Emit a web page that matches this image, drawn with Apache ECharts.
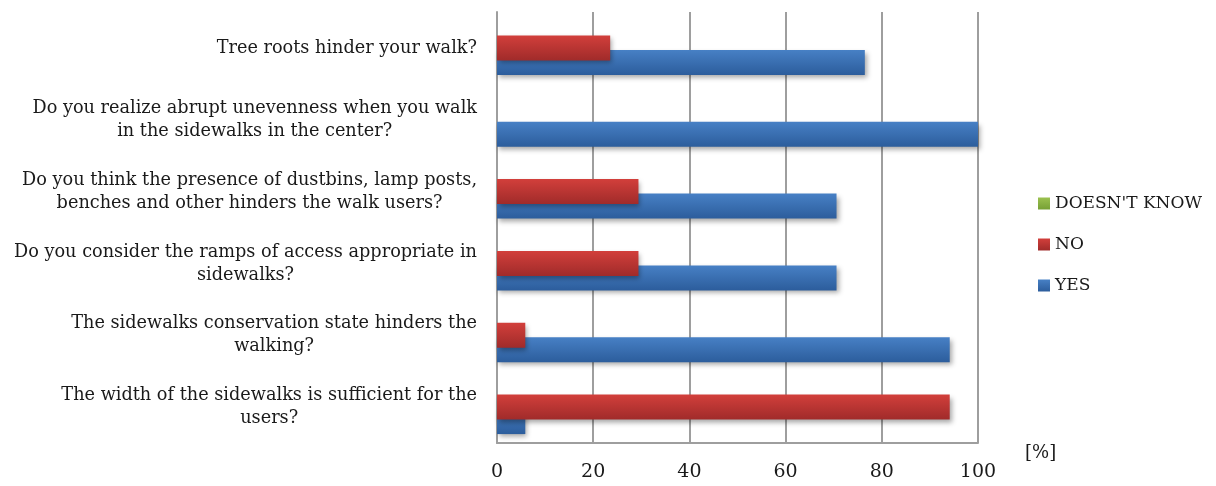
<!DOCTYPE html>
<html>
<head>
<meta charset="utf-8">
<script src="https://cdn.jsdelivr.net/npm/echarts@6/dist/echarts.min.js"></script>
<style>
html,body{margin:0;padding:0;background:#fff;}
#chart{width:1216px;height:486px;}
</style>
</head>
<body>
<div id="chart"></div>
<script>
// Categories listed bottom-to-top (ECharts category y axis starts at bottom)
const categories = [
  "The width of the sidewalks is sufficient for the\nusers?",
  "The sidewalks conservation state hinders the\nwalking?",
  "Do you consider the ramps of access appropriate in\nsidewalks?",
  "Do you think the presence of dustbins, lamp posts,\nbenches and other hinders the walk users?",
  "Do you realize abrupt unevenness when you walk\nin the sidewalks in the center?",
  "Tree roots hinder your walk?"
];
const yesValues = [5.88, 94.12, 70.59, 70.59, 100, 76.47];
const noValues = [94.12, 5.88, 29.41, 29.41, 0, 23.53];
const dontKnowValues = [0, 0, 0, 0, 0, 0];
const xTicks = [0, 20, 40, 60, 80, 100];
const legendOrder = ["DOESN'T KNOW", "NO", "YES"];

const FONT = "DejaVu Serif";
function grad(top, bottom) {
  return new echarts.graphic.LinearGradient(0, 0, 0, 1, [
    {offset: 0, color: top}, {offset: 1, color: bottom}
  ]);
}
const shadow = {shadowColor: 'rgba(0,0,0,0.35)', shadowBlur: 5, shadowOffsetX: 2, shadowOffsetY: 3};

const chart = echarts.init(document.getElementById('chart'), null, {renderer: 'canvas'});
chart.setOption({
  animation: false,
  backgroundColor: '#ffffff',
  grid: {left: 497, right: 238, top: 12, bottom: 43, containLabel: false},
  legend: {
    orient: 'vertical',
    left: 1033,
    top: 190,
    itemWidth: 12,
    itemHeight: 12,
    itemGap: 24,
    icon: 'rect',
    data: legendOrder,
    textStyle: {fontFamily: FONT, fontSize: 17, color: '#1a1a1a'}
  },
  xAxis: {
    type: 'value',
    min: xTicks[0],
    max: xTicks[xTicks.length - 1],
    interval: xTicks[1] - xTicks[0],
    name: '[%]',
    nameLocation: 'end',
    nameGap: 47,
    nameTextStyle: {fontFamily: FONT, fontSize: 18, color: '#1a1a1a', verticalAlign: 'top', padding: [1, 0, 0, 0]},
    axisLine: {show: true, lineStyle: {color: '#9e9e9e', width: 2}},
    axisTick: {show: false},
    axisLabel: {fontFamily: FONT, fontSize: 19, color: '#1a1a1a', margin: 20},
    splitLine: {show: true, lineStyle: {color: '#9e9e9e', width: 2}}
  },
  yAxis: {
    type: 'category',
    data: categories,
    axisLine: {show: true, lineStyle: {color: '#9e9e9e', width: 2}},
    axisTick: {show: false},
    splitLine: {show: false},
    axisLabel: {
      margin: 20,
      align: 'right',
      lineHeight: 23,
      formatter: function (v) {
        return v.split('\n').map(s => '{a|' + s + '}').join('\n');
      },
      rich: {a: {align: 'center', fontFamily: FONT, fontSize: 17.7, color: '#1a1a1a', lineHeight: 23}}
    }
  },
  series: [
    {
      name: "DOESN'T KNOW", type: 'bar', data: dontKnowValues,
      barWidth: 25, barGap: '-42%', barCategoryGap: '25%',
      itemStyle: {color: grad('#9bc14f', '#76a035')},
      z: 4
    },
    {
      name: 'NO', type: 'bar', data: noValues,
      barWidth: 25, barGap: '-42%', barCategoryGap: '25%',
      itemStyle: Object.assign({color: grad('#d23f3b', '#a02b2a')}, shadow),
      z: 3
    },
    {
      name: 'YES', type: 'bar', data: yesValues,
      barWidth: 25, barGap: '-42%', barCategoryGap: '25%',
      itemStyle: Object.assign({color: grad('#4780c5', '#2c5d9c')}, shadow),
      z: 2
    }
  ]
});
</script>
</body>
</html>
